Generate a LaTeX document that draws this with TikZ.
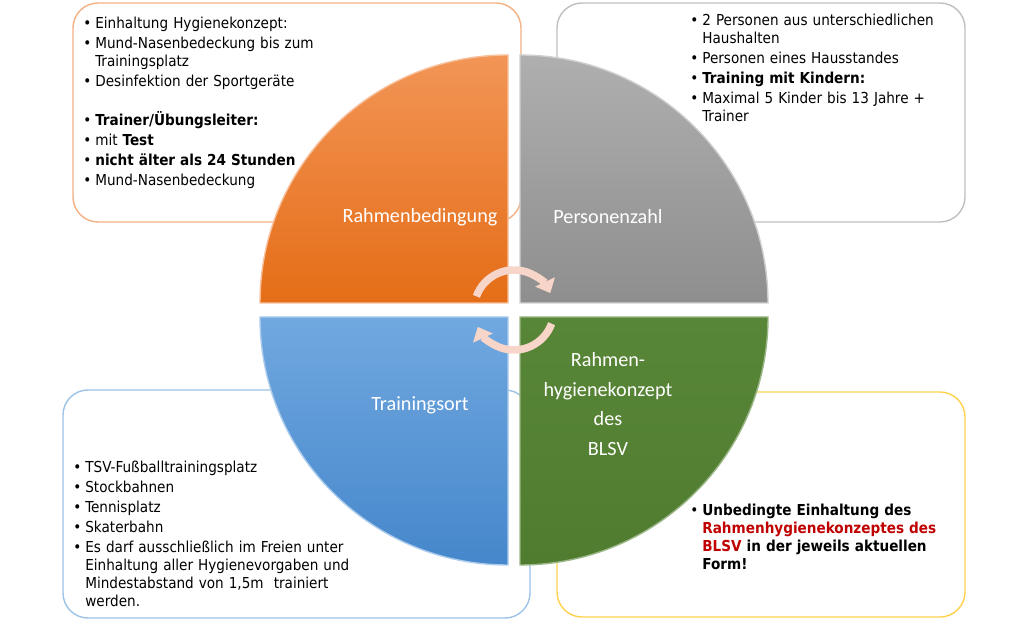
\documentclass[tikz,border=0pt]{standalone}
\usepackage{fontspec}
\usepackage{xcolor}
\usepackage{enumitem}
\usetikzlibrary{arrows.meta}
\setmainfont{DejaVu Sans Condensed}
\newfontfamily\labelfont{Carlito}

\definecolor{orangeline}{HTML}{F4B183}
\definecolor{grayline}{HTML}{BFBFBF}
\definecolor{blueline}{HTML}{9DC3E6}
\definecolor{yellowline}{HTML}{FFD24D}
\definecolor{orangetop}{HTML}{F29556}
\definecolor{orangebot}{HTML}{E56D17}
\definecolor{graytop}{HTML}{AFAFAF}
\definecolor{graybot}{HTML}{8E8E8E}
\definecolor{bluetop}{HTML}{71A8E0}
\definecolor{bluebot}{HTML}{4587CB}
\definecolor{greentop}{HTML}{588637}
\definecolor{greenbot}{HTML}{507C30}
\definecolor{blsvred}{HTML}{C00000}
\definecolor{cycpink}{HTML}{F7D6C9}

\setlist[itemize]{label=\textbullet, leftmargin=0.2cm, labelsep=0.08cm,
  topsep=0pt, partopsep=0pt, parsep=0pt, itemsep=1.2pt}

\tikzset{
  infobox/.style={fill=white, line width=0.8pt, rounded corners=0.5cm},
  infotext/.style={anchor=north west, inner sep=0pt, text width=#1,
    font=\fontsize{8.6}{10.2}\selectfont},
  quarter/.style={line width=0.8pt},
  quartertext/.style={text=white, font=\labelfont\fontsize{11.5}{17}\selectfont, align=center},
  cycarrow/.style={draw=cycpink, line width=4.3pt, -{Triangle[width=12pt,length=7pt]}}
}

\begin{document}
\begin{tikzpicture}[x=0.02cm, y=0.02cm]
\useasboundingbox (0,0) rectangle (1028,622);

\draw[infobox, draw=orangeline] (73,619) rectangle (521,400);
\draw[infobox, draw=grayline] (557,619) rectangle (965,400);
\draw[infobox, draw=blueline] (63,232) rectangle (530,4);
\draw[infobox, draw=yellowline] (557,230) rectangle (965,5);

\path[quarter, top color=orangetop, bottom color=orangebot, draw=orangetop!60!white]
  (508,319) -- (260,319) arc[start angle=180, end angle=90, radius=248] -- cycle;
\path[quarter, top color=graytop, bottom color=graybot, draw=graytop!60!white]
  (520,319) -- (520,567) arc[start angle=90, end angle=0, radius=248] -- cycle;
\path[quarter, top color=bluetop, bottom color=bluebot, draw=bluetop!60!white]
  (508,305) -- (508,57) arc[start angle=270, end angle=180, radius=248] -- cycle;
\path[quarter, top color=greentop, bottom color=greenbot, draw=greentop!60!white]
  (520,305) -- (768,305) arc[start angle=0, end angle=-90, radius=248] -- cycle;

\coordinate (cyc) at (514,312);
\draw[cycarrow] ([shift={(160:40)}]cyc) arc[start angle=160, end angle=25, radius=40];
\draw[cycarrow] ([shift={(-20:40)}]cyc) arc[start angle=-20, end angle=-155, radius=40];

\node[quartertext] (rahmen) at (420,405) {Rahmenbedingung};
\node[quartertext] (personen) at (608,405) {Personenzahl};
\node[quartertext] (ort) at (420,217) {Trainingsort};
\node[quartertext] (blsv) at (608,218) {Rahmen-\\hygienekonzept\\des\\BLSV};

\node[infotext=7.5cm] (rahmentext) at (85,612) {
  \begin{itemize}
    \item Einhaltung Hygienekonzept:
    \item Mund-Nasenbedeckung bis zum\\Trainingsplatz
    \item Desinfektion der Sportgeräte\vspace{11pt}
    \item \textbf{Trainer/Übungsleiter:}
    \item mit \textbf{Test}
    \item \textbf{nicht älter als 24 Stunden}
    \item Mund-Nasenbedeckung
  \end{itemize}};

\node[infotext=5.5cm] (personentext) at (692,615) {
  \begin{itemize}
    \item 2 Personen aus unterschiedlichen\\Haushalten
    \item Personen eines Hausstandes
    \item \textbf{Training mit Kindern:}
    \item Maximal 5 Kinder bis 13 Jahre +\\Trainer
  \end{itemize}};

\node[infotext=8cm] (orttext) at (75,168) {
  \begin{itemize}
    \item TSV-Fußballtrainingsplatz
    \item Stockbahnen
    \item Tennisplatz
    \item Skaterbahn
    \item Es darf ausschließlich im Freien unter\\Einhaltung aller Hygienevorgaben und\\Mindestabstand von 1,5m~ trainiert\\werden.
  \end{itemize}};

\node[infotext=5.5cm] (blsvtext) at (692,125) {
  \begin{itemize}
    \item \textbf{Unbedingte Einhaltung des\\\textcolor{blsvred}{Rahmenhygienekonzeptes des\\BLSV} in der jeweils aktuellen\\Form!}
  \end{itemize}};
\end{tikzpicture}
\end{document}
